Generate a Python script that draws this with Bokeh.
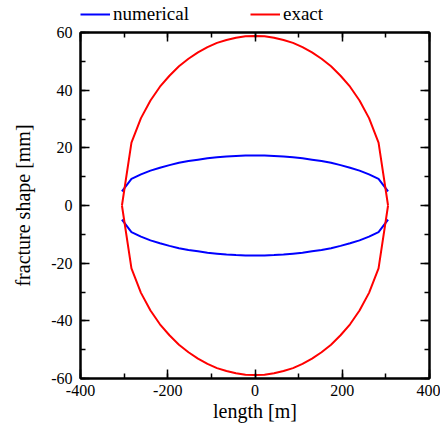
from bokeh.plotting import figure
from bokeh.layouts import column
from bokeh.models import (Range1d, LinearAxis, SingleIntervalTicker, Legend, LegendItem,
                          CustomJSTickFormatter)
from bokeh.embed import file_html
from bokeh.resources import INLINE

# ---- data ----
length_m = [-305.0, -283.2, -261.4, -239.6, -217.9, -196.1, -174.3, -152.5, -130.7, -108.9,
            -87.1, -65.4, -43.6, -21.8, 0.0, 21.8, 43.6, 65.4, 87.1, 108.9,
            130.7, 152.5, 174.3, 196.1, 217.9, 239.6, 261.4, 283.2, 305.0]

exact_upper = [0.0, 21.8, 30.3, 36.4, 41.2, 45.0, 48.3, 50.9, 53.1, 54.9,
               56.4, 57.4, 58.2, 58.7, 58.8, 58.7, 58.2, 57.4, 56.4, 54.9,
               53.1, 50.9, 48.3, 45.0, 41.2, 36.4, 30.3, 21.8, 0.0]
exact_lower = [-0.0, -21.8, -30.3, -36.4, -41.2, -45.0, -48.3, -50.9, -53.1, -54.9,
               -56.4, -57.4, -58.2, -58.7, -58.8, -58.7, -58.2, -57.4, -56.4, -54.9,
               -53.1, -50.9, -48.3, -45.0, -41.2, -36.4, -30.3, -21.8, -0.0]

numerical_upper = [4.9, 9.2, 10.8, 12.1, 13.1, 14.0, 14.8, 15.4, 15.9, 16.4,
                   16.7, 17.0, 17.2, 17.3, 17.3, 17.3, 17.2, 17.0, 16.7, 16.4,
                   15.9, 15.4, 14.8, 14.0, 13.1, 12.1, 10.8, 9.2, 4.9]
numerical_lower = [-4.9, -9.2, -10.8, -12.1, -13.1, -14.0, -14.8, -15.4, -15.9, -16.4,
                   -16.7, -17.0, -17.2, -17.3, -17.3, -17.3, -17.2, -17.0, -16.7, -16.4,
                   -15.9, -15.4, -14.8, -14.0, -13.1, -12.1, -10.8, -9.2, -4.9]

series_names = ["numerical", "exact"]
series_colors = ["#0000ff", "#ff0000"]

x_limits = (-400, 400)
y_limits = (-60, 60)

FONT = "'Liberation Serif', 'Times New Roman', serif"

# ---------- main chart ----------
p = figure(width=440, height=408, output_backend="svg", toolbar_location=None,
           x_range=Range1d(*x_limits), y_range=Range1d(*y_limits),
           min_border_left=80, min_border_right=11, min_border_top=8, min_border_bottom=54,
           x_axis_label="length [m]", y_axis_label="fracture shape [mm]")
p.grid.visible = False
p.outline_line_color = "black"
p.outline_line_width = 2
p.background_fill_color = "white"
p.border_fill_color = "white"

p.line(length_m, numerical_upper, line_color=series_colors[0], line_width=2)
p.line(length_m, numerical_lower, line_color=series_colors[0], line_width=2)
p.line(length_m, exact_upper, line_color=series_colors[1], line_width=2)
p.line(length_m, exact_lower, line_color=series_colors[1], line_width=2)

plain_fmt = CustomJSTickFormatter(code="return String(Math.round(tick));")
blank_fmt = CustomJSTickFormatter(code="return '';")


def style_axis(ax):
    ax.axis_line_width = 2
    ax.major_tick_in = 9
    ax.major_tick_out = 0
    ax.minor_tick_in = 5
    ax.minor_tick_out = 0
    ax.major_tick_line_width = 1.5
    ax.minor_tick_line_width = 1.5
    ax.major_label_text_font = FONT
    ax.major_label_text_font_size = "16px"
    ax.major_label_text_color = "black"
    ax.axis_label_text_font = FONT
    ax.axis_label_text_font_size = "20px"
    ax.axis_label_text_font_style = "normal"
    ax.axis_label_text_color = "black"


p.xaxis.ticker = SingleIntervalTicker(interval=200, num_minor_ticks=2)
p.yaxis.ticker = SingleIntervalTicker(interval=20, num_minor_ticks=2)
style_axis(p.xaxis[0])
style_axis(p.yaxis[0])
p.xaxis.formatter = plain_fmt
p.yaxis.formatter = plain_fmt
p.xaxis.major_label_standoff = 6
p.xaxis.axis_label_standoff = 1
p.yaxis.major_label_standoff = 8
p.yaxis.axis_label_standoff = 14

top_ax = LinearAxis(ticker=SingleIntervalTicker(interval=200, num_minor_ticks=2),
                    formatter=blank_fmt)
right_ax = LinearAxis(ticker=SingleIntervalTicker(interval=20, num_minor_ticks=2),
                      formatter=blank_fmt)
for ax in (top_ax, right_ax):
    style_axis(ax)
    ax.major_label_standoff = 0
p.add_layout(top_ax, "above")
p.add_layout(right_ax, "right")

# ---------- legend strip above the chart ----------
lg = figure(width=440, height=24, output_backend="svg", toolbar_location=None,
            x_range=Range1d(*x_limits), y_range=Range1d(100, 101),
            x_axis_location=None, y_axis_location=None,
            min_border=0, outline_line_color=None)
lg.grid.visible = False
series_y = [numerical_upper, exact_upper]
items = []
for name, color, ys in zip(series_names, series_colors, series_y):
    r = lg.line(length_m, ys, line_color=color, line_width=2)  # out of view; used for legend swatch
    items.append(LegendItem(label=name, renderers=[r]))
legend = Legend(items=items, orientation="horizontal", location=(0, -1),
                glyph_width=30, glyph_height=10, label_height=10,
                label_standoff=3, spacing=61, padding=0, margin=0,
                border_line_color=None, background_fill_alpha=0,
                label_text_font=FONT, label_text_font_size="19px",
                label_text_color="black")
lg.add_layout(legend)

layout = column(lg, p, spacing=0)
open("out.html", "w").write(file_html(layout, INLINE))
